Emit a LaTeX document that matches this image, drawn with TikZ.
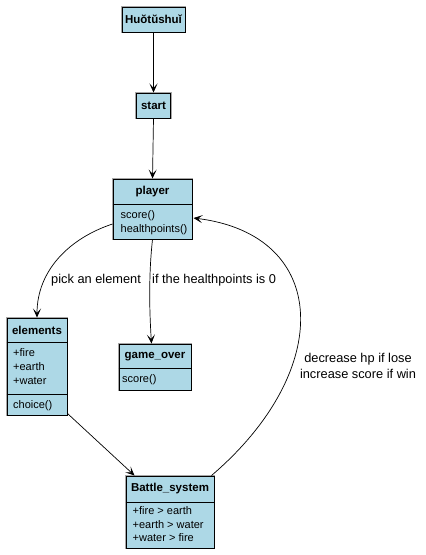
\documentclass[tikz,border=0pt]{standalone}
\usepackage{fontspec}
\setmainfont{Liberation Sans}
\usetikzlibrary{arrows.meta}
\definecolor{boxblue}{RGB}{173,216,230}
\newcommand{\ttlfont}{\fontsize{11.5pt}{13pt}\selectfont\bfseries}
\newcommand{\attrfont}{\fontsize{11pt}{13pt}\selectfont}
\newcommand{\lblfont}{\fontsize{12.8pt}{16.5pt}\selectfont}
\begin{document}
\begin{tikzpicture}[x=1pt,y=-1pt,
  cls/.style={draw=black, line width=1pt, fill=boxblue, inner sep=0pt,
    preaction={draw=black!35, line width=2.6pt}},
  ttl/.style={font=\ttlfont, inner sep=0pt},
  attr/.style={font=\attrfont, inner sep=0pt, anchor=west, text height=8pt, text depth=2.5pt},
  lbl/.style={font=\lblfont, inner sep=0pt},
  conn/.style={-{Stealth[length=9pt,width=8pt,inset=4.5pt]}, line width=0.7pt},
  divider/.style={line width=1pt}]
\fill[white] (0,0) rectangle (426,555);
\useasboundingbox (0,0) rectangle (426,555);

% boxes
\node[cls, minimum width=63pt, minimum height=25pt] (huo) at (153.5,19.5) {};
\node[ttl] (huot) at (153.5,19.5) {Huŏtŭshuǐ};

\node[cls, minimum width=34pt, minimum height=25pt] (start) at (153.5,105.5) {};
\node[ttl] (startt) at (153.5,105.5) {start};

\node[cls, minimum width=79pt, minimum height=60pt] (player) at (152.5,209) {};
\node[ttl] (playert) at (152.5,192) {player};
\draw[divider] (player.west |- 0,204) -- (player.east |- 0,204);
\node[attr] (pa1) at (120.5,216) {score()};
\node[attr] (pa2) at (120.5,230) {healthpoints()};

\node[cls, minimum width=60pt, minimum height=97pt] (elements) at (37,366.5) {};
\node[ttl] (elementst) at (37,330.5) {elements};
\draw[divider] (elements.west |- 0,342) -- (elements.east |- 0,342);
\node[attr] (ea1) at (13,354) {+fire};
\node[attr] (ea2) at (13,368) {+earth};
\node[attr] (ea3) at (13,382) {+water};
\draw[divider] (elements.west |- 0,394) -- (elements.east |- 0,394);
\node[attr] (ea4) at (13,406) {choice()};

\node[cls, minimum width=72pt, minimum height=46pt] (gameover) at (155,367) {};
\node[ttl] (gameovert) at (155,356.5) {game\_over};
\draw[divider] (gameover.west |- 0,368) -- (gameover.east |- 0,368);
\node[attr] (ga1) at (122,380) {score()};

\node[cls, minimum width=88pt, minimum height=72pt] (battle) at (170,512) {};
\node[ttl] (battlet) at (170,488.5) {Battle\_system};
\draw[divider] (battle.west |- 0,502) -- (battle.east |- 0,502);
\node[attr] (ba1) at (132.5,512) {+fire > earth};
\node[attr] (ba2) at (132.5,525.5) {+earth > water};
\node[attr] (ba3) at (132.5,539) {+water > fire};

% connectors
\draw[conn] (huo.south) -- (start.north);
\draw[conn] (start.south) -- (player.north);
\draw[conn] ([yshift=-15pt]player.west) .. controls (70,238) and (37,270) .. (elements.north);
\draw[conn] (player.south) .. controls (148,280) and (150,320) .. ([xshift=-3.5pt]gameover.north);
\draw[conn] ([yshift=2pt]elements.south east) -- ([xshift=9pt]battle.north west);
\draw[conn] ([xshift=-3pt]battle.north east) .. controls (335,370) and (330,235) .. ([yshift=-9pt,xshift=1pt]player.east);

% labels
\node[lbl, anchor=west] (l1) at (51,280) {pick an element};
\node[lbl, anchor=west] (l2) at (152,280) {if the healthpoints is 0};
\node[lbl, align=center] (l3) at (358,366) {decrease hp if lose\\increase score if win};
\end{tikzpicture}
\end{document}
